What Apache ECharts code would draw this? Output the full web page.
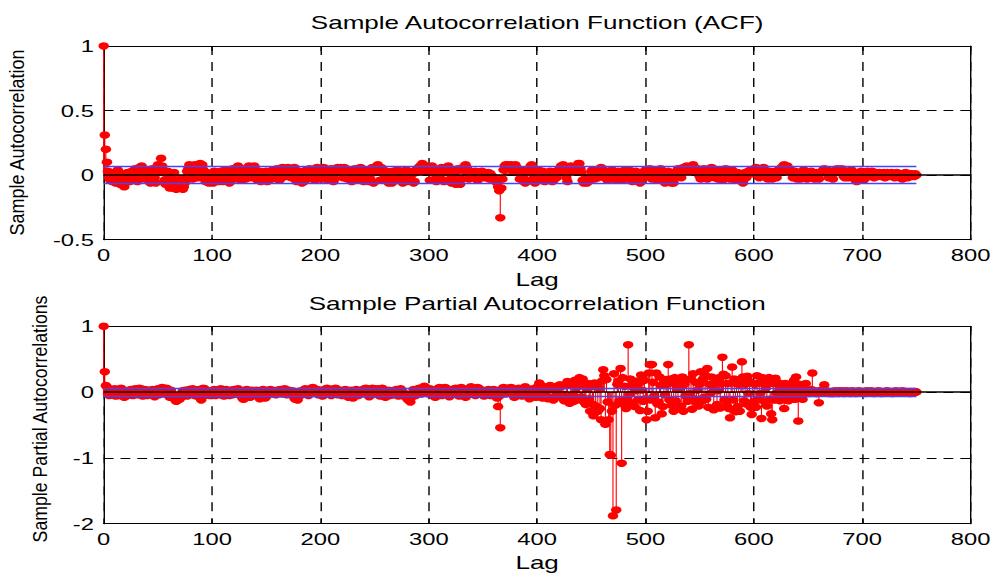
<!DOCTYPE html>
<html><head><meta charset="utf-8">
<script src="https://cdn.jsdelivr.net/npm/echarts@6/dist/echarts.min.js"></script>
<style>
html,body{margin:0;padding:0;background:#fff;overflow:hidden;width:998px;height:574px;}
#chart{width:713px;height:574px;transform:scaleX(1.39972);transform-origin:0 0;}
</style></head><body><div id="chart"></div>
<script>
// ---- data ----
const lagTicks = [0,100,200,300,400,500,600,700,800];
const acfTicks = [-0.5,0,0.5,1];
const pacfTicks = [-2,-1,0,1];
const maxLag = 750;
const acfBound = 0.065;
const pacfBound = 0.064;
const titles = ['Sample Autocorrelation Function (ACF)','Sample Partial Autocorrelation Function'];
const xName = 'Lag';
const yNames = ['Sample Autocorrelation','Sample Partial Autocorrelations'];

// ACF, lags 0..750
const acf = [
1,.31,.2,.1,.03,-.02,-.04,.01,-.05,.02,-.03,-.06,0,.04,-.02,-.07,-.03,.01,-.08,-.09,-.06,-.02,.02,-.03,-.05,
.01,.03,-.04,.02,.05,-.02,-.05,.03,.06,.04,.07,.05,.02,-.03,-.01,.04,.01,-.04,-.06,.02,.05,.03,-.02,-.06,.04,
.08,.05,.03,.13,.07,.02,-.04,-.07,.01,.03,-.08,-.1,-.09,-.03,-.1,.02,-.06,-.11,-.09,-.04,-.08,-.1,-.05,-.11,-.09,
-.06,-.02,.03,.05,.08,.06,.02,-.03,.04,.08,.07,.03,-.02,.05,.09,.06,.08,.04,-.01,-.05,.02,-.03,-.06,-.04,.01,
-.02,-.06,.03,.01,-.04,.02,-.05,0,.03,-.02,-.05,.01,.04,-.03,0,.02,-.06,-.04,.03,.05,.01,-.03,.04,.06,.07,
.05,.02,-.04,-.02,.03,.01,-.03,.04,.06,.07,.06,.03,-.02,.05,.07,.04,-.01,-.04,.02,.03,-.05,-.03,.01,-.04,-.02,
.03,-.05,-.04,.01,.02,-.03,.04,0,-.02,.03,.05,.02,-.04,-.03,.04,.06,.05,.02,-.01,.04,.06,.03,.05,-.02,.01,
.04,.06,-.03,-.05,.02,-.01,.03,-.04,-.06,-.02,-.05,.01,.04,-.03,.02,.05,.03,-.02,0,.04,-.04,.01,.06,.05,.03,
.02,-.03,.05,.06,.04,-.01,.03,-.04,-.02,.02,.05,.01,-.05,-.03,.03,.05,.06,.02,.04,.06,.05,-.02,.06,.03,.01,
-.03,.02,.04,-.02,-.05,.03,.01,.05,.03,-.04,-.02,.02,.06,.04,-.03,-.05,.01,.04,.03,.02,-.05,-.03,.04,.06,-.06,
.02,.05,.07,.08,.04,-.04,.06,.05,.02,-.03,-.01,.03,-.02,-.06,-.05,.01,-.06,.03,.02,-.04,-.02,.04,.01,-.03,.03,
.02,-.06,-.03,.01,.04,-.05,.02,.03,-.02,-.04,.01,-.06,-.05,.02,.05,.03,.06,.07,.05,.09,.08,.06,.03,.07,.05,
.03,-.04,.06,.07,.05,.02,-.03,-.05,.04,.01,-.02,.03,.06,-.04,-.05,.02,.05,.06,.07,.03,-.03,-.06,-.02,.04,-.05,
-.07,.03,.05,-.04,-.07,-.03,.04,.06,.07,.08,.06,.02,-.03,.01,.03,.02,-.02,.01,.03,.02,-.04,0,.02,.01,.03,
.01,-.02,.02,.01,-.01,.02,-.03,.01,-.02,-.01,-.03,-.04,-.05,-.06,-.09,-.12,-.33,-.1,-.03,.04,.07,.08,.07,.08,.06,
.07,.08,.05,.03,.07,.08,.06,.04,.02,-.03,.01,.04,-.02,-.05,-.06,-.04,.02,.03,.05,.07,.08,.04,-.02,-.06,-.03,
.02,.04,.03,-.02,.01,.03,-.04,-.05,.02,.01,-.03,-.01,.03,.02,-.05,-.04,.01,.03,-.02,.02,.04,.05,.07,.06,.08,
.05,.03,-.02,-.05,.03,.06,.07,.04,.06,.05,.03,.04,.06,.09,.09,.05,.02,-.04,-.06,-.05,-.02,-.06,-.05,-.04,-.02,
.03,.04,.02,-.03,.01,.03,-.02,.02,.04,.06,.05,.03,-.02,.01,.03,-.04,.02,.03,.01,.04,.02,.03,-.01,-.04,.02,
.03,.01,-.02,-.04,.02,.03,.04,.01,-.03,.02,.04,.03,-.02,-.05,-.03,.02,.03,-.01,-.04,-.05,-.06,-.03,.01,.02,.03,
.04,.02,-.01,.03,.05,.01,-.03,.02,.04,.03,-.02,-.04,.01,.03,.05,.02,-.03,-.04,-.06,-.05,-.02,.03,-.03,-.05,-.06,
-.04,-.06,-.02,.01,.03,.05,.04,.02,-.02,.03,.06,.04,.05,.07,.06,.03,.04,.06,.07,.08,.06,.04,.03,.05,.02,
-.01,-.03,.02,.04,.05,.03,-.02,-.03,.01,.03,.05,.06,.04,.02,-.02,.03,-.01,-.03,.02,.04,-.02,-.04,.01,.03,.05,
.04,.02,-.01,-.03,.02,.04,.01,-.02,-.04,-.03,.02,.01,-.02,-.04,-.05,-.06,-.03,.02,-.02,.01,.03,.02,.04,.03,.01,
.04,.05,.06,.03,.02,-.02,.03,.05,.04,.06,.03,.02,-.02,-.03,.01,.03,.02,-.03,-.02,.01,.03,-.02,.01,.04,.05,
.03,.06,.07,.08,.06,.05,.07,.05,.03,.04,.02,-.02,.01,.03,.02,-.03,.01,-.02,-.03,.01,.02,.04,.03,-.02,-.03,
.01,.02,-.01,.03,.02,-.02,-.03,.01,.02,-.02,-.03,.01,.02,.03,.04,.05,.03,.02,.04,-.02,.01,.03,-.02,-.03,.02,
.03,.04,.05,.03,.02,.04,.05,.03,-.01,-.02,.02,.03,-.02,.01,.02,.04,.03,-.01,-.03,-.04,-.05,-.03,.01,.02,.03,
-.02,-.04,-.03,.01,.02,.03,.01,-.01,.02,.03,.02,-.02,.01,.02,-.01,.01,.02,.01,-.01,.01,.02,-.02,.01,.02,.01,
-.01,.01,.02,.01,-.01,-.02,.01,.02,.01,-.01,.01,-.02,-.03,-.01,.01,.02,.01,-.02,-.01,.01,-.01,.01,0,-.01,.01,
0
];

// PACF, lags 0..750
const pacf = [
1,.31,.1,.08,-.03,-.05,.02,-.04,.03,-.02,.05,-.06,.01,-.03,-.05,.04,.06,-.02,-.04,-.08,-.03,.01,-.05,.02,-.02,
.04,-.03,-.05,.02,.05,-.02,-.04,.03,.06,.05,-.03,-.06,.01,.04,-.02,-.05,.03,-.01,.02,-.04,.04,-.03,-.07,.01,.03,
.05,-.04,.02,.06,.07,.03,-.03,.05,.06,-.02,-.05,-.08,.03,-.04,-.07,-.09,-.12,-.14,-.1,-.06,-.11,-.08,-.03,.02,-.05,
.03,-.04,-.06,.02,.04,-.03,.01,.05,-.02,-.05,.03,-.06,.02,.04,-.08,-.12,-.07,.06,.05,.03,-.04,-.02,.01,-.05,.02,
-.03,.02,.04,-.05,-.02,.03,.01,-.04,.05,.03,-.02,-.06,.01,.04,.02,-.03,-.05,.02,.03,-.04,.04,.02,-.03,-.01,.05,
.03,-.04,-.06,-.09,-.11,-.07,.02,.04,.03,-.05,-.08,-.06,.03,.01,-.04,-.02,.03,-.05,-.07,-.1,-.06,.02,.04,-.03,-.09,
-.07,.01,.03,-.02,.04,.02,-.03,-.01,.02,-.04,.03,.01,-.02,.04,.02,-.03,.01,.05,.02,-.04,-.02,.03,.01,-.03,.02,
-.05,-.09,-.11,-.08,-.12,-.06,-.03,.02,-.04,.01,.03,.05,.02,-.03,-.05,.01,.04,.06,.07,.05,.03,-.02,.04,-.04,.02,
.03,-.03,-.06,.01,.04,.02,.06,.05,.03,-.02,-.05,-.03,.02,.05,.06,.04,-.04,-.02,.03,.01,-.05,-.03,.02,.04,-.02,
-.06,-.08,.02,.03,-.04,-.09,-.03,.01,.04,-.02,-.05,.02,.03,-.03,.01,.04,.05,.06,.03,-.02,-.07,-.05,.02,.06,.05,
.04,-.03,.03,.05,-.02,-.06,.02,.06,.04,-.04,-.08,-.05,.01,.03,-.05,-.04,.02,-.03,-.04,.02,.04,-.03,-.06,-.02,.05,
.03,-.04,-.06,-.02,-.07,-.1,-.12,-.09,-.15,-.08,-.03,.04,.02,-.05,.01,.03,.06,.02,-.03,.05,.07,.09,.06,.04,.02,
-.03,.05,.03,-.04,.02,-.06,-.08,.01,.04,.06,.07,-.02,-.05,.03,.02,.07,.06,.01,-.04,-.07,-.05,.03,.04,-.02,.05,
.06,.02,-.03,-.06,.04,.07,.05,-.02,-.04,-.08,-.05,.03,.02,.06,.08,.05,-.03,.01,-.05,.03,.07,.06,.04,-.02,.03,
-.04,-.06,.02,.01,-.03,.04,.02,-.05,.03,-.02,.04,.01,-.06,-.09,-.22,-.06,-.54,.03,.05,.07,.04,-.03,.02,.06,.01,
.05,.07,.03,-.04,-.08,-.05,.02,.04,.06,.03,-.03,-.06,.02,.05,.08,.04,-.02,-.07,-.1,-.06,.03,.05,.02,-.04,-.08,
.06,.09,.14,.11,-.05,-.09,.04,.08,.02,-.06,-.1,.07,.1,.05,-.08,-.12,.03,.06,.09,-.04,-.07,.11,.08,-.03,-.09,
-.13,-.06,.1,.16,-.11,-.17,.14,.12,-.04,-.14,.18,.06,-.09,.15,.22,-.12,-.07,.2,.09,-.16,-.19,.05,.13,-.1,-.29,
.08,-.18,-.36,.14,-.21,.11,-.29,.06,-.25,-.42,.17,.34,.25,-.49,.19,-.15,-.42,-.95,-.96,-.29,-1.88,.28,-.2,-1.79,.12,
.17,-.13,.36,-1.08,.22,-.19,.09,-.25,-.1,.72,-.04,.2,-.16,.11,.07,-.22,.02,.17,-.12,.13,-.28,.26,.03,-.14,.18,
-.1,-.42,-.29,.29,.42,-.12,.42,.15,-.06,-.39,.29,-.18,-.15,.23,.1,-.33,-.22,.14,-.04,.19,.12,.42,-.12,.2,-.2,
.14,-.29,.22,-.13,.05,-.25,.16,.06,-.21,.23,-.29,.12,-.06,.19,-.14,.72,-.02,.2,-.26,.28,-.1,.15,-.16,.03,-.21,
.12,.31,-.14,.2,-.08,.26,-.11,.36,-.23,.12,-.02,.23,.1,-.27,.04,.18,-.19,.02,.22,-.24,.13,.53,.27,-.12,.25,
-.2,.13,-.25,-.39,.14,.38,-.12,.2,-.3,.13,-.22,.12,-.29,.14,.46,.23,-.13,.12,-.18,.24,-.02,.16,-.23,-.34,.13,
-.14,.12,-.23,.25,-.12,.14,-.02,-.4,.22,-.13,.12,.06,-.21,.13,.22,-.11,-.33,-.42,.13,-.12,.21,-.01,.12,.14,-.13,
.02,-.04,.11,-.25,.13,-.12,.05,-.13,.01,-.02,.13,.04,.18,-.11,.23,-.03,-.44,.12,-.03,.04,-.11,.02,-.02,.13,-.01,
.02,-.02,.03,.04,.29,-.01,.02,-.02,.01,-.02,-.16,.01,.03,-.01,.02,.11,-.01,.02,-.01,.01,-.02,.01,-.02,.01,-.02,
.02,-.01,.01,-.02,.02,.01,-.01,.02,-.02,.01,-.01,.02,-.01,.01,-.02,.01,.02,-.01,.01,-.02,.01,-.01,.02,-.01,.01,
-.01,.01,-.02,.01,.02,-.01,.01,-.01,.02,-.01,.01,-.02,.01,-.01,.01,.02,-.01,.01,-.02,.01,-.01,.01,-.01,.02,-.01,
.01,-.01,.01,-.02,.01,-.01,.02,-.01,.01,-.01,.01,-.01,.02,-.01,.01,-.01,.01,-.01,.01,-.02,.01,-.01,.01,-.01,.01,
0
];

// ---- chart ----
const FONT = '"Liberation Sans", Arial, Helvetica, sans-serif';
const RED = '#ff0000';
const grids = [
  {left: 74.09, top: 46, width: 619.3, height: 193.7},
  {left: 74.09, top: 326.3, width: 619.3, height: 197.4}
];
const plotCenterX = 74.09 + 619.3 / 2;

function xAx(gi, pos) {
  const main = pos === 'bottom';
  return {
    type: 'value', gridIndex: gi, position: pos,
    min: lagTicks[0], max: lagTicks[lagTicks.length - 1], interval: lagTicks[1] - lagTicks[0],
    axisLine: {show: true, onZero: false, lineStyle: {color: '#000', width: 1}},
    axisTick: {show: true, inside: true, length: 5, lineStyle: {color: '#000', width: 1}},
    axisLabel: {show: main, margin: 7, color: '#000', fontSize: 17, fontFamily: FONT, showMinLabel: true, showMaxLabel: true},
    splitLine: {show: main, lineStyle: {color: '#000', width: 1, type: [9, 7]}}
  };
}
function yAx(gi, pos, ticks) {
  const main = pos === 'left';
  return {
    type: 'value', gridIndex: gi, position: pos,
    min: ticks[0], max: ticks[ticks.length - 1], interval: ticks[1] - ticks[0],
    axisLine: {show: true, onZero: false, lineStyle: {color: '#000', width: 1}},
    axisTick: {show: true, inside: true, length: 5, lineStyle: {color: '#000', width: 1}},
    axisLabel: {show: main, margin: 7, color: '#000', fontSize: 17, fontFamily: FONT, showMinLabel: true, showMaxLabel: true},
    splitLine: {show: main, lineStyle: {color: '#000', width: 1, type: [7, 5]}}
  };
}

function stemItem(params, api) {
  const x = api.value(0), y = api.value(1);
  const p0 = api.coord([x, 0]);
  const p1 = api.coord([x, y]);
  return {type: 'line', shape: {x1: p0[0], y1: p0[1], x2: p1[0], y2: p1[1]},
          style: {stroke: RED, lineWidth: 0.8}};
}

function seriesFor(gi, values, bound) {
  const data = values.map((v, i) => [i, v]);
  return [
    {type: 'custom', xAxisIndex: gi * 2, yAxisIndex: gi * 2, data, renderItem: stemItem,
     z: 2, silent: true, animation: false, clip: false, progressive: 0},
    {type: 'scatter', xAxisIndex: gi * 2, yAxisIndex: gi * 2, data, symbol: 'circle', symbolSize: 7.5,
     itemStyle: {color: RED, opacity: 1}, z: 3, silent: true, animation: false, clip: false, progressive: 0,
     markLine: {
       silent: true, symbol: 'none', animation: false, label: {show: false},
       emphasis: {disabled: true},
       data: [
         {yAxis: 0, lineStyle: {color: '#000', width: 1.6, type: 'solid'}},
         [{coord: [0, bound], lineStyle: {color: '#4444ff', width: 1.3, type: 'solid'}}, {coord: [maxLag, bound]}],
         [{coord: [0, -bound], lineStyle: {color: '#4444ff', width: 1.3, type: 'solid'}}, {coord: [maxLag, -bound]}]
       ]
     }}
  ];
}

function txt(text, x, y, size, extra) {
  return Object.assign({
    type: 'text', x, y, silent: true,
    style: {text, fill: '#000', fontSize: size, fontFamily: FONT,
            align: 'center', verticalAlign: 'middle', textAlign: 'center', textVerticalAlign: 'middle'}
  }, extra || {});
}

const option = {
  backgroundColor: '#fff',
  animation: false,
  grid: grids,
  xAxis: [xAx(0, 'bottom'), xAx(0, 'top'), xAx(1, 'bottom'), xAx(1, 'top')],
  yAxis: [yAx(0, 'left', acfTicks), yAx(0, 'right', acfTicks), yAx(1, 'left', pacfTicks), yAx(1, 'right', pacfTicks)],
  series: [...seriesFor(0, acf, acfBound), ...seriesFor(1, pacf, pacfBound)],
  graphic: [
    txt(titles[0], plotCenterX, 23, 18.6),
    txt(titles[1], plotCenterX, 304.2, 18.6),
    txt(xName, plotCenterX, 279.5, 18.6),
    txt(xName, plotCenterX, 563, 18.6),
    txt(yNames[0], 12, 142.5, 15, {rotation: Math.PI / 2, scaleX: 1.2}),
    txt(yNames[1], 28, 419, 15, {rotation: Math.PI / 2, scaleX: 1.18})
  ]
};

const chart = echarts.init(document.getElementById('chart'), null, {renderer: 'svg'});
chart.setOption(option);
if (acf.length !== maxLag + 1 || pacf.length !== maxLag + 1) {
  throw new Error('length mismatch acf=' + acf.length + ' pacf=' + pacf.length);
}
</script>
</body></html>
